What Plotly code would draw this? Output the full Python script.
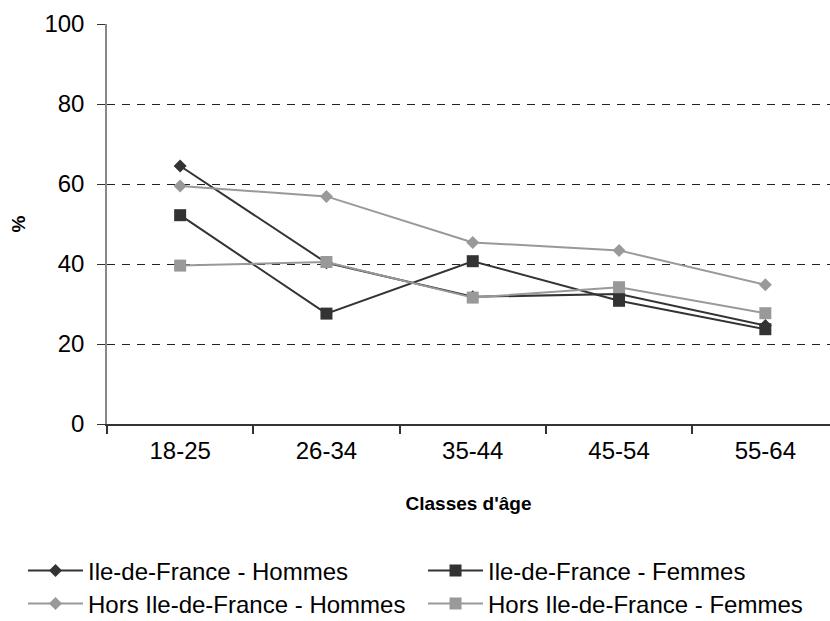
import plotly.graph_objects as go

categories = ["18-25", "26-34", "35-44", "45-54", "55-64"]
idf_hommes = [64.5, 40.3, 31.8, 32.5, 24.6]
idf_femmes = [52.2, 27.6, 40.7, 30.8, 23.7]
hors_hommes = [59.5, 56.9, 45.4, 43.4, 34.8]
hors_femmes = [39.6, 40.5, 31.6, 34.2, 27.7]
series_names = ["Ile-de-France - Hommes", "Ile-de-France - Femmes",
                "Hors Ile-de-France - Hommes", "Hors Ile-de-France - Femmes"]
y_ticks = [0, 20, 40, 60, 80, 100]

DARK = "#333333"
GREY = "#999999"
FONT = "Liberation Sans, Arial, sans-serif"

fig = go.Figure()
specs = [
    (series_names[0], idf_hommes, DARK, "diamond", 10, "legend"),
    (series_names[1], idf_femmes, DARK, "square", 12, "legend2"),
    (series_names[2], hors_hommes, GREY, "diamond", 10, "legend3"),
    (series_names[3], hors_femmes, GREY, "square", 12, "legend4"),
]
for name, vals, col, sym, sz, lg in specs:
    fig.add_trace(go.Scatter(
        x=categories, y=vals, name=name, mode="lines+markers",
        line=dict(color=col, width=2),
        marker=dict(color=col, symbol=sym, size=sz, line=dict(width=0)),
        legend=lg,
    ))

leg_common = dict(orientation="h", xanchor="left", yanchor="middle", itemwidth=55,
                  font=dict(size=24), bgcolor="rgba(0,0,0,0)")
col1_x, col2_x = -0.1162, 0.4371
row1_y, row2_y = -0.3675, -0.45

fig.update_layout(
    width=830, height=621,
    margin=dict(l=107, r=0, t=24, b=197, autoexpand=False),
    plot_bgcolor="white", paper_bgcolor="white",
    font=dict(family=FONT, size=24, color="black"),
    showlegend=True,
    legend=dict(x=col1_x, y=row1_y, **leg_common),
    legend2=dict(x=col2_x, y=row1_y, **leg_common),
    legend3=dict(x=col1_x, y=row2_y, **leg_common),
    legend4=dict(x=col2_x, y=row2_y, **leg_common),
)

fig.update_xaxes(
    type="category", range=[-0.5, 4.442],
    showline=True, linecolor="#333333", linewidth=1.5,
    ticks="outside", ticklen=8, tickcolor="#333333", tickwidth=1.5,
    tickson="boundaries", showgrid=False, zeroline=False,
    tickfont=dict(size=24), ticklabelstandoff=4,
    title=dict(text="<b>Classes d'âge</b>", font=dict(size=19), standoff=34),
)
fig.update_yaxes(
    range=[0, 100], tickvals=y_ticks,
    showline=True, linecolor="#888888", linewidth=1.5,
    ticks="outside", ticklen=8, tickcolor="#333333", tickwidth=1,
    showgrid=True, gridcolor="#222222", gridwidth=1, griddash="8px,7px",
    zeroline=False, tickfont=dict(size=24), ticklabelstandoff=8,
    title=dict(text="<b>%</b>", font=dict(size=19), standoff=14),
)

fig.write_html(
    "out.html",
    config={"displayModeBar": False},
    post_script="document.body.style.margin='0';document.body.style.overflow='hidden';",
)
